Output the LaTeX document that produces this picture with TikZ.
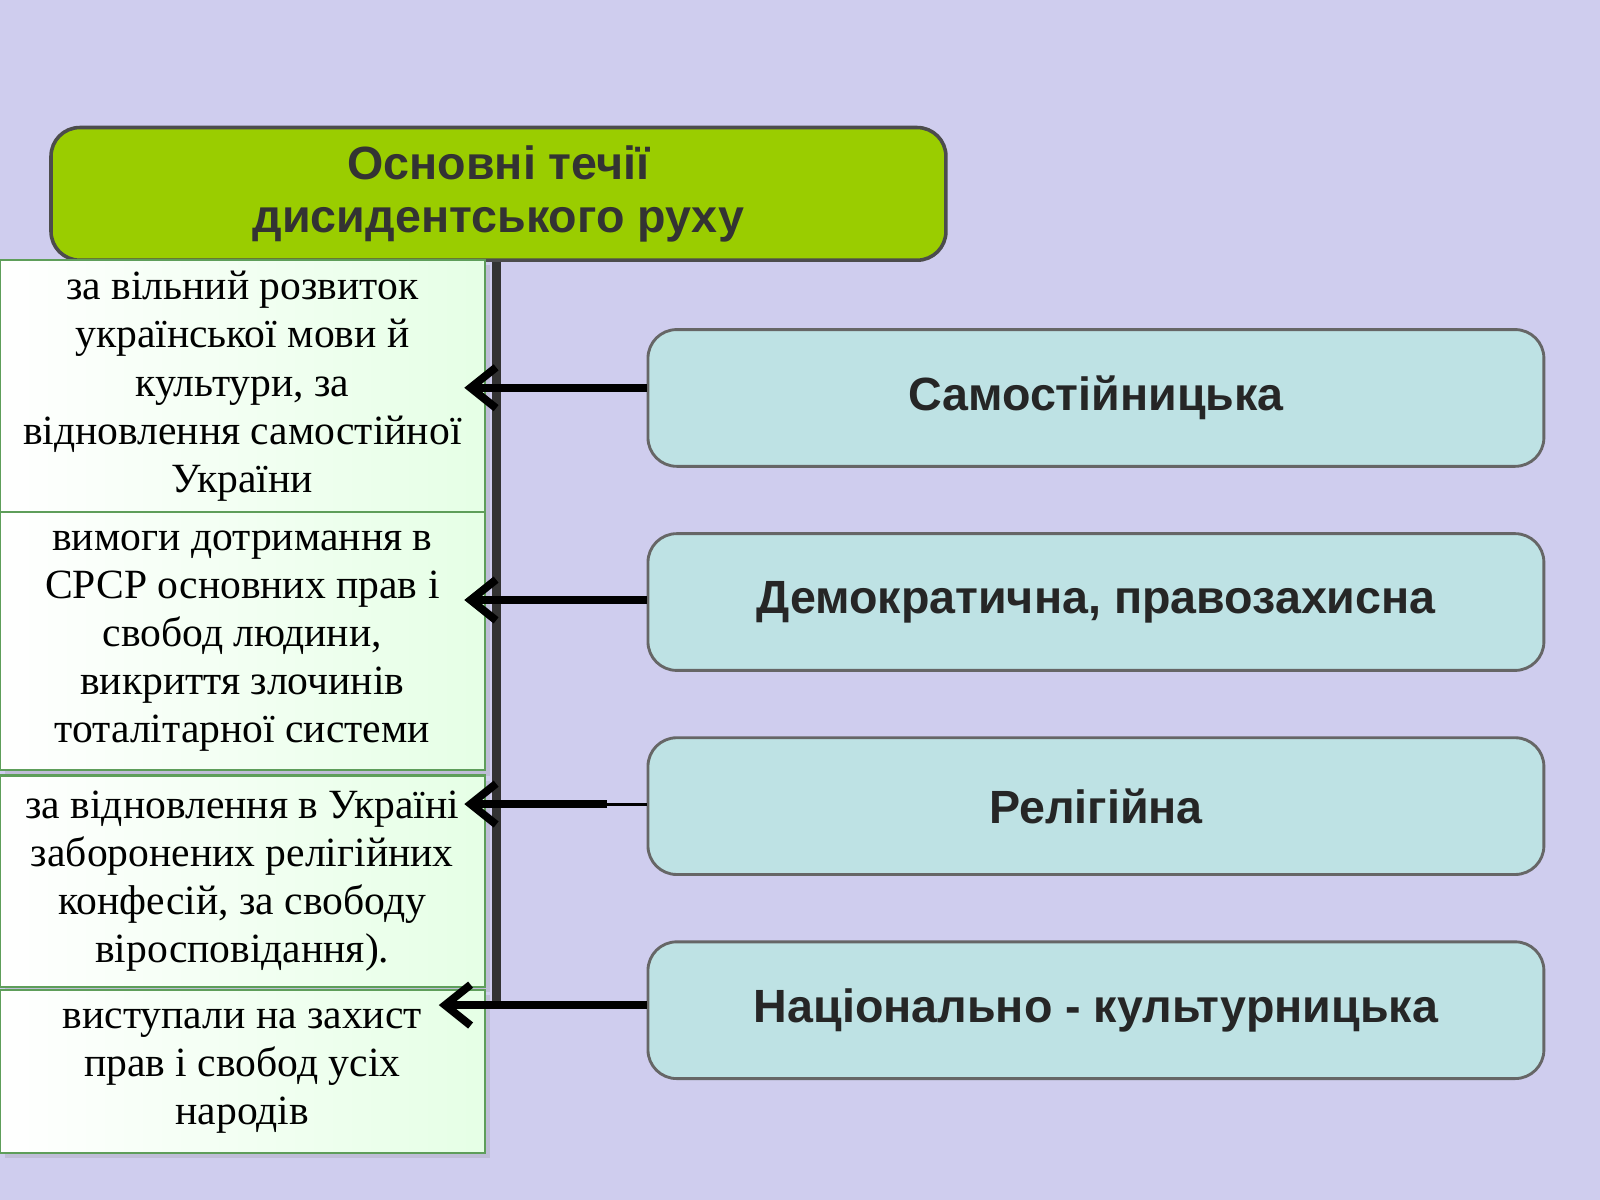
\documentclass[tikz,border=0pt]{standalone}
\usepackage{fontspec}
\setmainfont{Liberation Serif}
\newfontfamily\headfont{Liberation Sans}
\usetikzlibrary{positioning,arrows.meta,shadows}
\definecolor{bgviolet}{HTML}{CFCDEE}
\definecolor{headgreen}{HTML}{9ACD00}
\definecolor{kindcyan}{HTML}{BEE2E4}
\definecolor{aimgreen}{HTML}{5E9E5A}
\tikzset{
  headbox/.style={draw=black!70, fill=headgreen, rounded corners=8pt, line width=1pt,
    minimum width=8.77cm, minimum height=1.3cm, align=center,
    font=\headfont\bfseries\fontsize{13}{15}\selectfont, text=black!80},
  kindbox/.style={draw=black!60, fill=kindcyan, rounded corners=8pt, line width=0.8pt,
    minimum width=8.78cm, minimum height=1.34cm,
    font=\headfont\bfseries\fontsize{13}{15}\selectfont, text=black!85},
  aimbox/.style={draw=aimgreen, left color=white, right color=green!10!white, line width=0.6pt,
    minimum width=4.75cm, align=center, inner sep=1pt,
    font=\fontsize{11.6}{13.4}\selectfont,
    drop shadow={opacity=0.2, shadow xshift=0.5mm, shadow yshift=-0.5mm}},
  linkarrow/.style={line width=2.2pt, -{Straight Barb[length=2.5mm,width=4mm]}},
}
\begin{document}
\begin{tikzpicture}[x=1cm,y=-1cm]
  % background
  \useasboundingbox[fill=bgviolet] (0,0) rectangle (15.68,11.76);
  % spine
  \draw[line width=2.5pt, black!80] (4.87,2.5) -- (4.87,9.85);
  % head
  \node[headbox] (head) at (4.885,1.9) {Основні течії\\дисидентського руху};
  % kinds of movement
  \node[kindbox] (samo)  at (10.74,3.9)  {Самостійницька};
  \node[kindbox] (demo)  at (10.74,5.9)  {Демократична, правозахисна};
  \node[kindbox] (relig) at (10.74,7.9)  {Релігійна};
  \node[kindbox] (nats)  at (10.74,9.9)  {Національно - культурницька};
  % aims
  \node[aimbox, minimum height=2.47cm] (aimA) at (2.375,3.785) {за вільний розвиток\\української мови й\\культури, за\\відновлення самостійної\\України};
  \node[aimbox, minimum height=2.53cm] (aimB) at (2.375,6.285) {вимоги дотримання в\\СРСР основних прав і\\свобод людини,\\викриття злочинів\\тоталітарної системи};
  \node[aimbox, minimum height=2.07cm] (aimC) at (2.375,8.635) {за відновлення в Україні\\заборонених релігійних\\конфесій, за свободу\\віросповідання).};
  \node[aimbox, minimum height=1.6cm] (aimD) at (2.375,10.5) {виступали на захист\\прав і свобод усіх\\народів};
  % links
  \draw[linkarrow] (samo.west |- 0,3.8) -- (4.55,3.8);
  \draw[linkarrow] (demo.west |- 0,5.88) -- (4.55,5.88);
  \draw[line width=0.8pt] (relig.west |- 0,7.88) -- (5.9,7.88);
  \draw[linkarrow] (5.95,7.88) -- (4.55,7.88);
  \draw[linkarrow] (nats.west |- 0,9.85) -- (4.3,9.85);
\end{tikzpicture}
\end{document}
